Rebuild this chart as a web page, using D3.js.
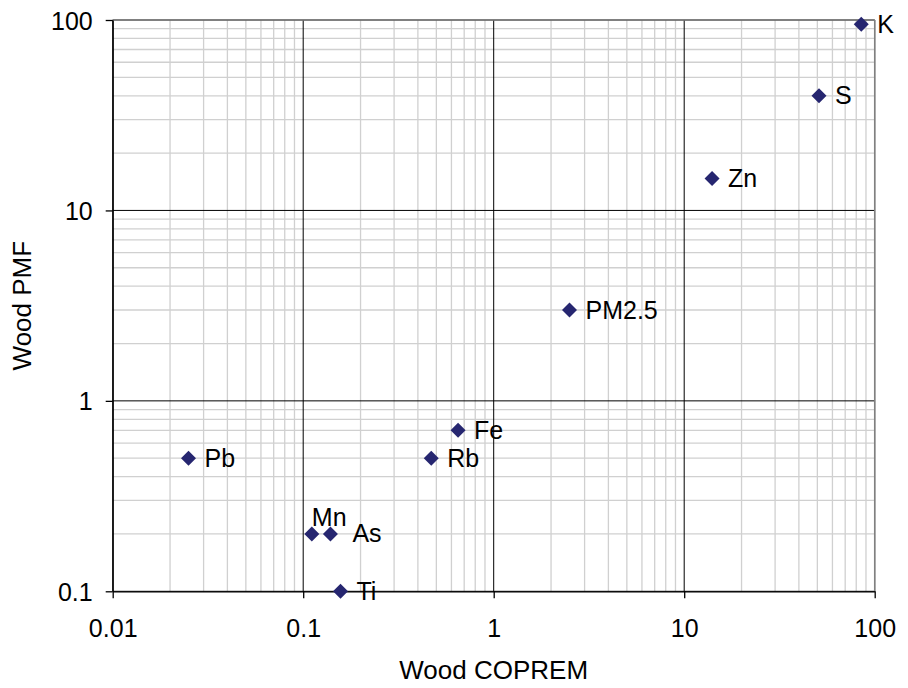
<!DOCTYPE html>
<html>
<head>
<meta charset="utf-8">
<script src="https://cdn.jsdelivr.net/npm/d3@7"></script>
<style>
  body { margin: 0; background: #fff; }
  text { font-family: "Liberation Sans", Arial, sans-serif; }
</style>
</head>
<body>
<script>
// element names and their two source profile values
var species = ["K", "S", "Zn", "PM2.5", "Fe", "Rb", "Pb", "Mn", "As", "Ti"];
var coprem = [85, 51, 14, 2.5, 0.65, 0.47, 0.025, 0.111, 0.139, 0.157];
var pmf = [95, 40, 14.7, 3.0, 0.70, 0.50, 0.50, 0.20, 0.20, 0.10];
var xTickLabels = ["0.01", "0.1", "1", "10", "100"];
var yTickLabels = ["0.1", "1", "10", "100"];

// svg size and the plot box (note: "top" is taken by window.top)
var width = 908,
    height = 688,
    plotLeft = 112.7,
    plotRight = 874.7,
    plotTop = 20,
    plotBottom = 591.3;

var fontSize = 25;
var titleSize = 26;
var markColor = "#262670";

var svg = d3.select("body").append("svg")
    .attr("width", width)
    .attr("height", height);

var x = d3.scaleLog().domain([0.01, 100]).range([plotLeft, plotRight]);
var y = d3.scaleLog().domain([0.1, 100]).range([plotBottom, plotTop]);

// minor grid: 2..9 inside every decade
function minorTicks(domain) {
    var out = [];
    var lo = Math.round(Math.log10(domain[0])), hi = Math.round(Math.log10(domain[1]));
    for (var e = lo; e < hi; e++) {
        for (var m = 2; m <= 9; m++) out.push(m * Math.pow(10, e));
    }
    return out;
}

var grid = svg.append("g");
grid.selectAll(".vminor")
    .data(minorTicks(x.domain()))
    .enter().append("line")
    .attr("x1", function(d) { return x(d); })
    .attr("x2", function(d) { return x(d); })
    .attr("y1", plotTop).attr("y2", plotBottom)
    .attr("stroke", "#d0d0d0").attr("stroke-width", 1.3);
grid.selectAll(".hminor")
    .data(minorTicks(y.domain()))
    .enter().append("line")
    .attr("y1", function(d) { return y(d); })
    .attr("y2", function(d) { return y(d); })
    .attr("x1", plotLeft).attr("x2", plotRight)
    .attr("stroke", "#d0d0d0").attr("stroke-width", 1.3);

// major grid lines
grid.selectAll(".vmajor")
    .data(xTickLabels.map(Number))
    .enter().append("line")
    .attr("x1", function(d) { return x(d); })
    .attr("x2", function(d) { return x(d); })
    .attr("y1", plotTop).attr("y2", plotBottom)
    .attr("stroke", "#000").attr("stroke-width", 1);
grid.selectAll(".hmajor")
    .data(yTickLabels.map(Number))
    .enter().append("line")
    .attr("y1", function(d) { return y(d); })
    .attr("y2", function(d) { return y(d); })
    .attr("x1", plotLeft).attr("x2", plotRight)
    .attr("stroke", "#000").attr("stroke-width", 1);

// plot border, grey on top and right
svg.append("line").attr("x1", plotLeft).attr("x2", plotRight).attr("y1", plotTop).attr("y2", plotTop)
    .attr("stroke", "#808080").attr("stroke-width", 1.5);
svg.append("line").attr("x1", plotRight).attr("x2", plotRight).attr("y1", plotTop).attr("y2", plotBottom)
    .attr("stroke", "#808080").attr("stroke-width", 1.5);

// axes
var xAxis = d3.axisBottom(x)
    .tickValues(xTickLabels.map(Number))
    .tickFormat(function(d, i) { return xTickLabels[i]; })
    .tickSizeInner(7).tickSizeOuter(0).tickPadding(21);
var yAxis = d3.axisLeft(y)
    .tickValues(yTickLabels.map(Number))
    .tickFormat(function(d, i) { return yTickLabels[i]; })
    .tickSizeInner(7).tickSizeOuter(0).tickPadding(13);

var gx = svg.append("g").attr("transform", "translate(0," + plotBottom + ")").call(xAxis);
var gy = svg.append("g").attr("transform", "translate(" + plotLeft + ",0)").call(yAxis);
[gx, gy].forEach(function(g) {
    g.select(".domain").attr("stroke", "#000").attr("stroke-width", 1.3);
    g.selectAll(".tick line").attr("stroke", "#000").attr("stroke-width", 1.3);
    g.selectAll(".tick text")
        .attr("fill", "#000")
        .style("font-size", fontSize + "px")
        .style("font-family", "'Liberation Sans', Arial, sans-serif");
});
gy.selectAll(".tick text").attr("dy", "0.36em");

// axis titles
svg.append("text")
    .attr("x", (plotLeft + plotRight) / 2)
    .attr("y", 679)
    .attr("text-anchor", "middle")
    .style("font-size", titleSize + "px")
    .text("Wood COPREM");
svg.append("text")
    .attr("transform", "translate(31," + (plotTop + plotBottom) / 2 + ") rotate(-90)")
    .attr("text-anchor", "middle")
    .style("font-size", titleSize + "px")
    .text("Wood PMF");

// points
var nodes = species.map(function(s, i) {
    return { name: s, cx: coprem[i], cy: pmf[i] };
});

svg.selectAll(".pt")
    .data(nodes)
    .enter().append("path")
    .attr("d", "M0,-7.5L7.5,0L0,7.5L-7.5,0Z")
    .attr("fill", markColor)
    .attr("transform", function(d) { return "translate(" + x(d.cx) + "," + y(d.cy) + ")"; });

// label placement: most sit to the right, a couple nudged
function labelDx(d) {
    if (d.name === "Mn") return 0;
    if (d.name === "As") return 22;
    return 16;
}
function labelDy(d) {
    if (d.name === "Mn") return -8;
    return 8.5;
}

svg.selectAll(".lbl")
    .data(nodes)
    .enter().append("text")
    .attr("x", function(d) { return x(d.cx) + labelDx(d); })
    .attr("y", function(d) { return y(d.cy) + labelDy(d); })
    .style("font-size", fontSize + "px")
    .attr("fill", "#000")
    .text(function(d) { return d.name; });
</script>
</body>
</html>
